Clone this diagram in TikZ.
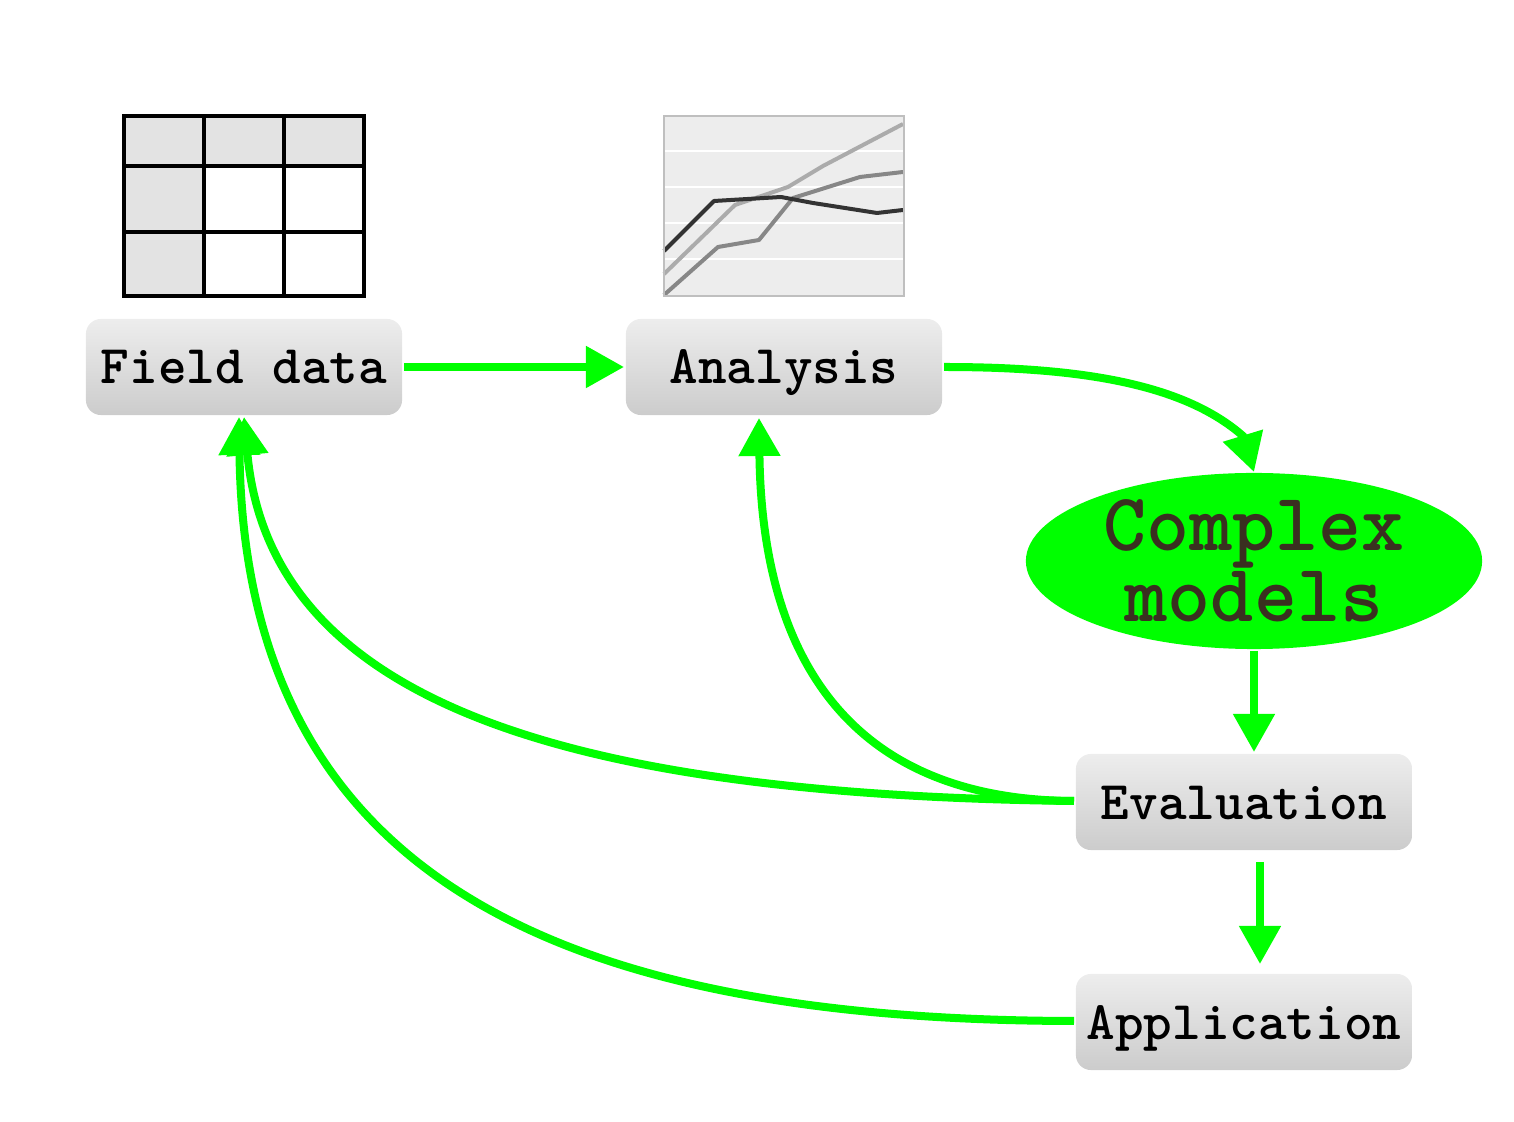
\documentclass[tikz,border=0pt]{standalone}
\usetikzlibrary{arrows.meta}
\usetikzlibrary{shapes.geometric}
\definecolor{flowgreen}{RGB}{0,255,0}
\definecolor{modeltext}{RGB}{58,48,32}
\tikzset{
  stepbox/.style={rounded corners=0.15cm,shade,top color=black!7,bottom color=black!20,
    minimum width=#1,minimum height=0.96cm,inner sep=0pt,text height=0.44cm,text depth=0.1cm,
    font=\fontsize{15.5}{16}\selectfont\ttfamily\bfseries},
  stepbox/.default=3.16cm,
  flow/.style={draw=flowgreen,line width=0.08cm,-{Triangle[length=0.38cm,width=0.4cm]}},
  curveline/.style={line width=0.04cm,line join=round}
}
\begin{document}
\begin{tikzpicture}[x=0.01cm,y=-0.01cm]
  \useasboundingbox (0,0) rectangle (1514,1122);
  % table icon
  \fill[black!11] (124,116) rectangle (364,166) (124,166) rectangle (204,296);
  \draw[line width=0.04cm] (124,116) rectangle (364,296);
  \draw[line width=0.04cm] (204,116) -- (204,296) (284,116) -- (284,296);
  \draw[line width=0.04cm] (124,166) -- (364,166) (124,232) -- (364,232);
  % chart icon
  \fill[black!7] (664,116) rectangle (904,296);
  \foreach \y in {151,187,223,259}
    \draw[white,line width=0.012cm] (664,\y) -- (904,\y);
  \draw[black!33,curveline] (664,274) -- (735,205) -- (788,187) -- (823,166) -- (903,124);
  \draw[black!47,curveline] (664,295) -- (718,247) -- (759,240) -- (793,198) -- (860,177) -- (903,172);
  \draw[black!80,curveline] (664,251) -- (714,201) -- (781,197) -- (813,203) -- (877,213) -- (903,210);
  \draw[black!25,line width=0.025cm] (664,116) rectangle (904,296);
  % steps
  \node[stepbox] (fielddata) at (244,367) {Field data};
  \node[stepbox] (analysis) at (784,367) {Analysis};
  \node[stepbox=3.36cm] (evaluation) at (1244,802) {Evaluation};
  \node[stepbox=3.36cm] (application) at (1244,1022) {Application};
  \node[ellipse,fill=flowgreen,text=modeltext,minimum width=4.56cm,minimum height=1.76cm,
    inner xsep=0.1cm,inner ysep=-0.18cm,align=center,
    font=\fontsize{23.3}{20.2}\selectfont\ttfamily\bfseries] (models) at (1254,561) {Complex\\models};
  % free ends of the arrows
  \coordinate (fieldinA) at (239,417);
  \coordinate (fieldinB) at (244,417);
  \coordinate (analysisin) at (759,418);
  \coordinate (analysisout) at (944,367);
  \coordinate (modelsbend) at (1243,436);
  \coordinate (modelsin) at (1254,472);
  \coordinate (evaluationin) at (1254,752);
  \coordinate (modelsout) at (1254,651);
  \coordinate (evaluationout) at (1260,862);
  \coordinate (applicationin) at (1260,964);
  \coordinate (evaluationleft) at (1074,801);
  \coordinate (applicationleft) at (1074,1021);
  \coordinate (fieldout) at (404,367);
  \coordinate (analysisleft) at (624,367);
  % arrows
  \draw[flow] (fieldout) -- (analysisleft);
  \draw[flow] (analysisout) .. controls (1085,367) and (1185,385) .. (modelsbend) -- (modelsin);
  \draw[flow] (modelsout) -- (evaluationin);
  \draw[flow] (evaluationout) -- (applicationin);
  \draw[flow] (evaluationleft) .. controls (860,800) and (762,670) .. (analysisin);
  \draw[flow] (evaluationleft) .. controls (560,795) and (270,700) .. (fieldinB);
  \draw[flow] (applicationleft) .. controls (560,1020) and (245,878) .. (fieldinA);
\end{tikzpicture}
\end{document}
